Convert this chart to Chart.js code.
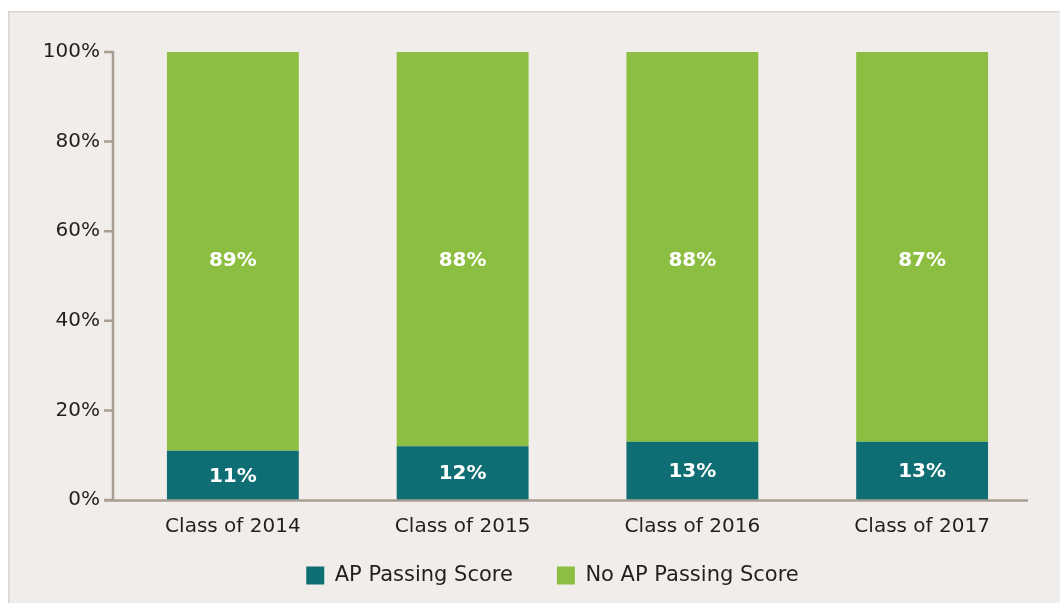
<!DOCTYPE html>
<html lang="en">
<head>
  <meta charset="UTF-8">
  <script src="https://cdn.jsdelivr.net/npm/chart.js"></script>
  <title>AP Passing Score</title>
  <style>
    html, body { margin: 0; padding: 0; background: #fff; }
    #wrap { width: 1060px; height: 603px; position: relative; }
  </style>
</head>
<body>
  <div id="wrap">
    <canvas id="myChart" width="1060" height="603"></canvas>
  </div>
  <script>
    // data
    var classes = ['Class of 2014', 'Class of 2015', 'Class of 2016', 'Class of 2017'];
    var apPassing = [11, 12, 13, 13];
    var noApPassing = [89, 88, 88, 87];
    var yTicks = [0, 20, 40, 60, 80, 100];

    var axisColor = '#a89e93';
    var textColor = '#231f20';
    var fontFamily = "'DejaVu Sans', sans-serif";

    // beige panel behind the chart
    var panelBg = {
      id: 'panelBg',
      beforeDraw: function(chart){
        var c = chart.ctx;
        c.save();
        c.fillStyle = '#ffffff';
        c.fillRect(0, 0, chart.width, chart.height);
        c.fillStyle = '#f1edea';
        c.fillRect(8, 11, chart.width - 8, chart.height - 11);
        c.fillStyle = '#ddd6d0';
        c.fillRect(8, 11, chart.width - 8, 1.5);
        c.fillRect(8, 11, 1.5, chart.height - 11);
        c.restore();
      }
    };

    // move the legend under the bars (centre of the plot, not of the canvas)
    var legendShift = {
      id: 'legendShift',
      afterLayout: function(chart){
        var lg = chart.legend;
        var dx = 34;
        lg.left += dx; lg.right += dx;
        lg.top = 521;
        lg.bottom = chart.height;
        lg.height = lg.bottom - lg.top;
      }
    };

    // axis lines and tick marks
    var axes = {
      id: 'axes',
      afterDatasetsDraw: function(chart){
        var c = chart.ctx;
        var a = chart.chartArea;
        var y = chart.scales.y;
        var ax = a.left - 5;
        c.save();
        c.strokeStyle = axisColor;
        c.lineWidth = 2.5;
        c.beginPath();
        c.moveTo(ax, a.top - 1);
        c.lineTo(ax, a.bottom);
        c.moveTo(a.left - 14, a.bottom + 0.5);
        c.lineTo(a.right - 9, a.bottom + 0.5);
        yTicks.forEach(function(t){
          var py = y.getPixelForValue(t);
          c.moveTo(a.left - 14, py);
          c.lineTo(ax, py);
        });
        c.stroke();
        c.restore();
      }
    };

    // value labels in the bars
    var barLabels = {
      id: 'barLabels',
      afterDatasetsDraw: function(chart){
        var c = chart.ctx;
        var y = chart.scales.y;
        c.save();
        c.fillStyle = '#ffffff';
        c.font = 'bold 20px ' + fontFamily;
        c.textAlign = 'center';
        c.textBaseline = 'middle';
        chart.data.datasets.forEach(function(ds, di){
          chart.getDatasetMeta(di).data.forEach(function(bar, i){
            var py;
            if(di == 0) py = (bar.y + bar.base) / 2 + 1;
            else py = y.getPixelForValue(53.5);
            c.fillText(ds.data[i] + '%', bar.x, py);
          });
        });
        c.restore();
      }
    };

    const ctx = document.getElementById('myChart');
    new Chart(ctx, {
      type: 'bar',
      data: {
        labels: classes,
        datasets: [{
          label: 'AP Passing Score',
          data: apPassing,
          backgroundColor: '#0f6e73'
        }, {
          label: 'No AP Passing Score',
          data: noApPassing,
          backgroundColor: '#8cbf41'
        }]
      },
      options: {
        responsive: false,
        animation: false,
        devicePixelRatio: 1,
        datasets: {
          bar: {
            categoryPercentage: 1,
            barPercentage: 0.574,
            borderWidth: 0,
            clip: 0
          }
        },
        layout: {
          padding: { left: 0, right: 23, top: 52, bottom: 0 }
        },
        scales: {
          x: {
            stacked: true,
            grid: { display: false, drawTicks: false },
            border: { display: false },
            ticks: {
              color: textColor,
              padding: 15,
              font: { family: fontFamily, size: 20 }
            },
            afterFit: function(scale){ scale.height = 50; }
          },
          y: {
            stacked: true,
            min: 0,
            max: 100,
            grid: { display: false, drawTicks: false },
            border: { display: false },
            afterBuildTicks: function(scale){
              scale.ticks = yTicks.map(function(v){ return { value: v }; });
            },
            ticks: {
              color: textColor,
              padding: 18,
              font: { family: fontFamily, size: 20 },
              callback: function(v){ return v + '%'; }
            },
            afterFit: function(scale){ scale.width = 118; }
          }
        },
        plugins: {
          legend: {
            position: 'bottom',
            maxHeight: 53,
            labels: {
              boxWidth: 18,
              boxHeight: 18,
              padding: 44,
              color: textColor,
              font: { family: fontFamily, size: 21 }
            }
          },
          tooltip: { enabled: false }
        }
      },
      plugins: [panelBg, legendShift, axes, barLabels]
    });
  </script>
</body>
</html>
